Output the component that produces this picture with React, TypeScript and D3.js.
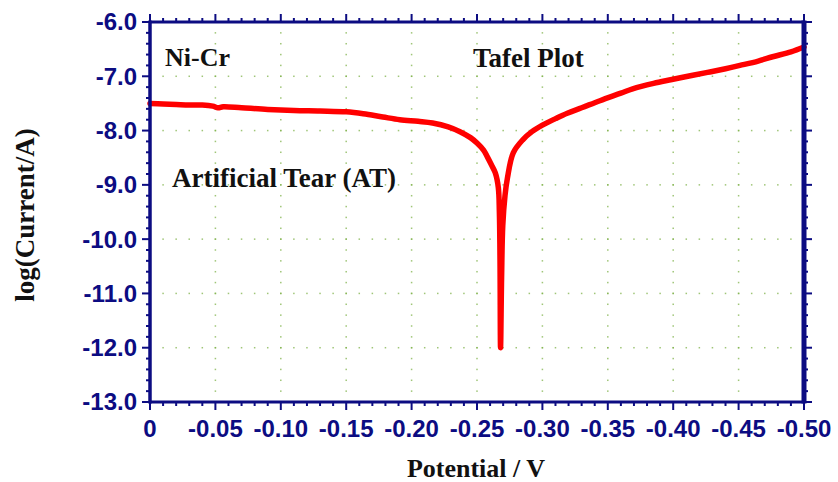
import React from "react";
import * as d3 from "d3";

// ---- data ----
const potential: number[] = [
  0, -0.01, -0.02, -0.03, -0.04, -0.048, -0.052, -0.056, -0.07, -0.09, -0.11, -0.13, -0.15,
  -0.163, -0.178, -0.191, -0.205, -0.216, -0.228, -0.237, -0.245, -0.25, -0.255, -0.258,
  -0.261, -0.264, -0.2663, -0.2671, -0.2676, -0.268, -0.2688, -0.2697, -0.2714, -0.2733,
  -0.2777, -0.285, -0.292, -0.3, -0.31, -0.319, -0.33, -0.344, -0.36, -0.369, -0.385,
  -0.399, -0.415, -0.428, -0.44, -0.451, -0.465, -0.476, -0.49, -0.5,
];
const logCurrent: number[] = [
  -7.5, -7.51, -7.52, -7.53, -7.53, -7.55, -7.58, -7.56, -7.58, -7.61, -7.63, -7.64, -7.655,
  -7.69, -7.75, -7.8, -7.83, -7.86, -7.93, -8.02, -8.13, -8.23, -8.36, -8.49,
  -8.63, -8.78, -9.05, -9.5, -10.4, -12.0, -10.7, -9.75, -9.2, -8.87,
  -8.41, -8.17, -8.02, -7.9, -7.78, -7.68, -7.58, -7.45, -7.31, -7.23, -7.13,
  -7.06, -6.98, -6.92, -6.86, -6.8, -6.72, -6.64, -6.55, -6.46,
];
const xTickValues: number[] = [0, -0.05, -0.1, -0.15, -0.2, -0.25, -0.3, -0.35, -0.4, -0.45, -0.5];
const xTickLabels: string[] = ["0", "-0.05", "-0.10", "-0.15", "-0.20", "-0.25", "-0.30", "-0.35", "-0.40", "-0.45", "-0.50"];
const yTickValues: number[] = [-6, -7, -8, -9, -10, -11, -12, -13];
const yTickLabels: string[] = ["-6.0", "-7.0", "-8.0", "-9.0", "-10.0", "-11.0", "-12.0", "-13.0"];

const W = 838;
const H = 482;
const L = 150, R = 804, T = 22, B = 402;
const NAVY = "#0c0c82";
const GRID = "#7fb24a";

export default function App() {
  const x = d3.scaleLinear().domain([0, -0.5]).range([L, R]);
  const y = d3.scaleLinear().domain([-13, -6]).range([B, T]);

  const xMinor = d3.range(0, 51).map((i) => -i * 0.01);
  const yMinor = d3.range(0, 36).map((i) => -13 + i * 0.2);

  const pts: [number, number][] = potential.map((p, i) => [p, logCurrent[i]]);
  const line = d3
    .line<[number, number]>()
    .x((d) => x(d[0]))
    .y((d) => y(d[1]))
    .curve(d3.curveCatmullRom.alpha(0.5));

  const gridDots: JSX.Element[] = [];
  yTickValues.slice(1, -1).forEach((yv) => {
    xMinor.slice(1, -1).forEach((xv, j) => {
      gridDots.push(
        <rect key={`h${yv}_${j}`} x={x(xv) - 0.75} y={y(yv) - 0.75} width={1.5} height={1.5} fill={GRID} opacity={0.75} />
      );
    });
  });
  xTickValues.slice(1, -1).forEach((xv) => {
    yMinor.slice(1, -1).forEach((yv, j) => {
      gridDots.push(
        <rect key={`v${xv}_${j}`} x={x(xv) - 0.75} y={y(yv) - 0.75} width={1.5} height={1.5} fill={GRID} opacity={0.75} />
      );
    });
  });

  const isMajorX = (v: number) => Math.abs(Math.round(v * 100) % 5) === 0;
  const isMajorY = (v: number) => Math.abs(v - Math.round(v)) < 1e-6;

  return (
    <div style={{ position: "absolute", left: 0, top: 0 }}>
      <svg width={W} height={H} style={{ display: "block", background: "#fff" }}>
        {gridDots}

        <path d={line(pts) || ""} fill="none" stroke="#ff0000" strokeWidth={5.5} strokeLinejoin="round" strokeLinecap="round" />

        {xMinor.map((v, i) => {
          const len = isMajorX(v) ? 8 : 4;
          return (
            <g key={`xt${i}`} stroke={NAVY} strokeWidth={2}>
              <line x1={x(v)} x2={x(v)} y1={B} y2={B + len} />
              <line x1={x(v)} x2={x(v)} y1={T} y2={T - len} />
            </g>
          );
        })}
        {yMinor.map((v, i) => {
          const len = isMajorY(v) ? 8 : 4;
          return (
            <g key={`yt${i}`} stroke={NAVY} strokeWidth={2}>
              <line x1={L} x2={L - len} y1={y(v)} y2={y(v)} />
              <line x1={R} x2={R + len} y1={y(v)} y2={y(v)} />
            </g>
          );
        })}

        <line x1={L} x2={R} y1={T} y2={T} stroke={NAVY} strokeWidth={3} />
        <line x1={L} x2={R} y1={B} y2={B} stroke={NAVY} strokeWidth={3} />
        <line x1={L} x2={L} y1={T - 1.5} y2={B + 1.5} stroke={NAVY} strokeWidth={3.5} />
        <line x1={R} x2={R} y1={T - 1.5} y2={B + 1.5} stroke={NAVY} strokeWidth={5} />

        <g fontFamily="'Liberation Sans', Arial, sans-serif" fontWeight="bold" fontSize={24} fill={NAVY}>
          {xTickValues.map((v, i) => (
            <text key={`xl${i}`} x={x(v)} y={437} textAnchor="middle">
              {xTickLabels[i]}
            </text>
          ))}
          {yTickValues.map((v, i) => (
            <text key={`yl${i}`} x={137} y={y(v)} dy="0.35em" textAnchor="end">
              {yTickLabels[i]}
            </text>
          ))}
        </g>

        <g fontFamily="'Liberation Serif', 'Times New Roman', serif" fontWeight="bold" fill="#111">
          <text x={476} y={477} fontSize={26} textAnchor="middle">Potential / V</text>
          <text transform="translate(34,215) rotate(-90)" fontSize={27} textAnchor="middle">log(Current/A)</text>
          <text x={165} y={66} fontSize={26}>Ni-Cr</text>
          <text x={473} y={67} fontSize={27}>Tafel Plot</text>
          <text x={172} y={187} fontSize={27}>Artificial Tear (AT)</text>
        </g>
      </svg>
    </div>
  );
}
